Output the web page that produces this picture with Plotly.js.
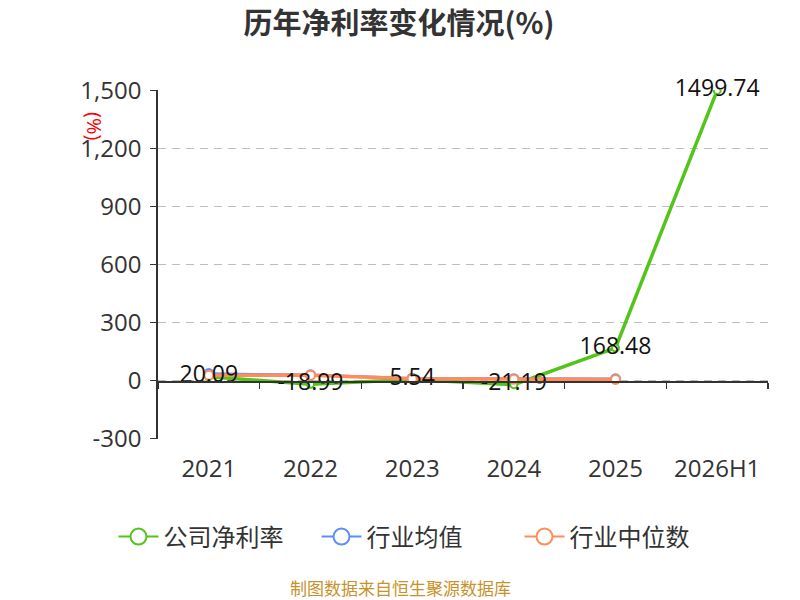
<!DOCTYPE html>
<html>
<head>
<meta charset="utf-8">
<script src="https://cdn.plot.ly/plotly-3.0.1.min.js"></script>
<style>
  html, body { margin: 0; padding: 0; background: #fff; }
  #chart { width: 800px; height: 600px; }
</style>
</head>
<body>
<div id="chart"></div>
<script>
var years = ["2021", "2022", "2023", "2024", "2025", "2026H1"];
var companyMargin = [20.09, -18.99, 5.54, -21.19, 168.48, 1499.74];
var industryAvg = [36, 30, 12, 10, 9];
var industryMedian = [28, 28, 9, 7, 6];
var yTickVals = [-300, 0, 300, 600, 900, 1200, 1500];
var yTickText = ["-300", "0", "300", "600", "900", "1,200", "1,500"];
var seriesNames = ["公司净利率", "行业均值", "行业中位数"];
var seriesColors = ["#52c41a", "#5b8ff9", "#ff8c5a"];

var cjk = "'Noto Sans CJK SC', sans-serif";
var num = "'Open Sans', 'Noto Sans CJK SC', sans-serif";

var data = [{
    x: years,
    y: companyMargin,
    name: seriesNames[0],
    showlegend: false,
    type: "scatter",
    mode: "lines+markers",
    line: { color: seriesColors[0], width: 3.5 },
    marker: { symbol: "circle", size: 7, color: "#fff", line: { color: seriesColors[0], width: 2 } }
}, {
    x: years.slice(0, 5),
    y: industryAvg,
    name: seriesNames[1],
    showlegend: false,
    type: "scatter",
    mode: "lines+markers",
    line: { color: seriesColors[1], width: 2.5 },
    marker: { symbol: "circle", size: 9, color: "#fff", line: { color: seriesColors[1], width: 2 } }
}, {
    x: years.slice(0, 5),
    y: industryMedian,
    name: seriesNames[2],
    showlegend: false,
    type: "scatter",
    mode: "lines+markers",
    line: { color: seriesColors[2], width: 3.5 },
    marker: { symbol: "circle", size: 9, color: "#fff", line: { color: seriesColors[2], width: 2 } }
}, {
    // value labels on top of all lines
    x: years,
    y: companyMargin,
    showlegend: false,
    type: "scatter",
    mode: "text",
    text: companyMargin.map(function (v) { return v.toFixed(2); }),
    textposition: "middle center",
    textfont: { size: 23, color: "#111", family: num },
    cliponaxis: false,
    hoverinfo: "skip"
}, {
    // axis line at y = 0 with boundary ticks
    x: years,
    y: years.map(function () { return null; }),
    xaxis: "x2",
    type: "scatter",
    mode: "lines",
    showlegend: false,
    hoverinfo: "skip"
}];

// legend entries with larger symbols
seriesNames.forEach(function (name, i) {
    data.push({
        x: [years[0]],
        y: [null],
        name: name,
        type: "scatter",
        mode: "lines+markers",
        line: { color: seriesColors[i], width: 2 },
        marker: { symbol: "circle", size: 16, color: "#fff", line: { color: seriesColors[i], width: 2 } },
        hoverinfo: "skip"
    });
});

var layout = {
    width: 800,
    height: 600,
    margin: { l: 158, r: 32, t: 90, b: 161 },
    paper_bgcolor: "#fff",
    plot_bgcolor: "#fff",
    font: { family: cjk, color: "#333" },
    title: {
        text: "<b>历年净利率变化情况(%)</b>",
        font: { size: 29, color: "#333", family: cjk },
        x: 399 / 800, xanchor: "center",
        y: 1 - 24 / 600, yanchor: "middle"
    },
    xaxis: {
        type: "category",
        range: [-0.5, 5.5],
        showline: false,
        showgrid: false,
        zeroline: false,
        ticks: "outside",
        ticklen: 8,
        tickcolor: "rgba(0,0,0,0)",
        tickfont: { size: 24, color: "#333", family: num }
    },
    xaxis2: {
        type: "category",
        overlaying: "x",
        matches: "x",
        anchor: "free",
        position: 300 / 1800,
        side: "bottom",
        showline: true,
        linecolor: "#333",
        linewidth: 1.8,
        showgrid: false,
        zeroline: false,
        showticklabels: false,
        ticks: "outside",
        tickson: "boundaries",
        ticklen: 6,
        tickcolor: "#333",
        tickwidth: 1.5
    },
    yaxis: {
        range: [-302, 1502],
        tickvals: yTickVals,
        ticktext: yTickText,
        tickfont: { size: 24, color: "#333", family: num },
        showline: true,
        linecolor: "#333",
        linewidth: 1.8,
        ticks: "outside",
        ticklen: 6,
        tickcolor: "#333",
        tickwidth: 1.5,
        ticklabelstandoff: 4,
        showgrid: true,
        gridcolor: "#bdbdbd",
        griddash: "8px,6px",
        gridwidth: 1.5,
        zeroline: false
    },
    showlegend: true,
    legend: {
        orientation: "h",
        x: (418 - 158) / 610, xanchor: "center",
        y: (439 - 537) / 349, yanchor: "middle",
        font: { size: 24, color: "#333", family: cjk },
        itemwidth: 40,
        entrywidth: 148,
        entrywidthmode: "pixels",
        tracegroupgap: 0
    },
    annotations: [{
        text: "(%)",
        xref: "paper", yref: "paper",
        x: (95 - 158) / 610, y: (439 - 126) / 349,
        xanchor: "center", yanchor: "middle",
        showarrow: false,
        textangle: 90,
        font: { size: 20, color: "#f00", family: num }
    }, {
        text: "制图数据来自恒生聚源数据库",
        xref: "paper", yref: "paper",
        x: (400 - 158) / 610, y: (439 - 587) / 349,
        xanchor: "center", yanchor: "middle",
        showarrow: false,
        font: { size: 17, color: "#c8922a", family: cjk }
    }]
};

Plotly.newPlot("chart", data, layout, { displayModeBar: false, staticPlot: true });
</script>
</body>
</html>
